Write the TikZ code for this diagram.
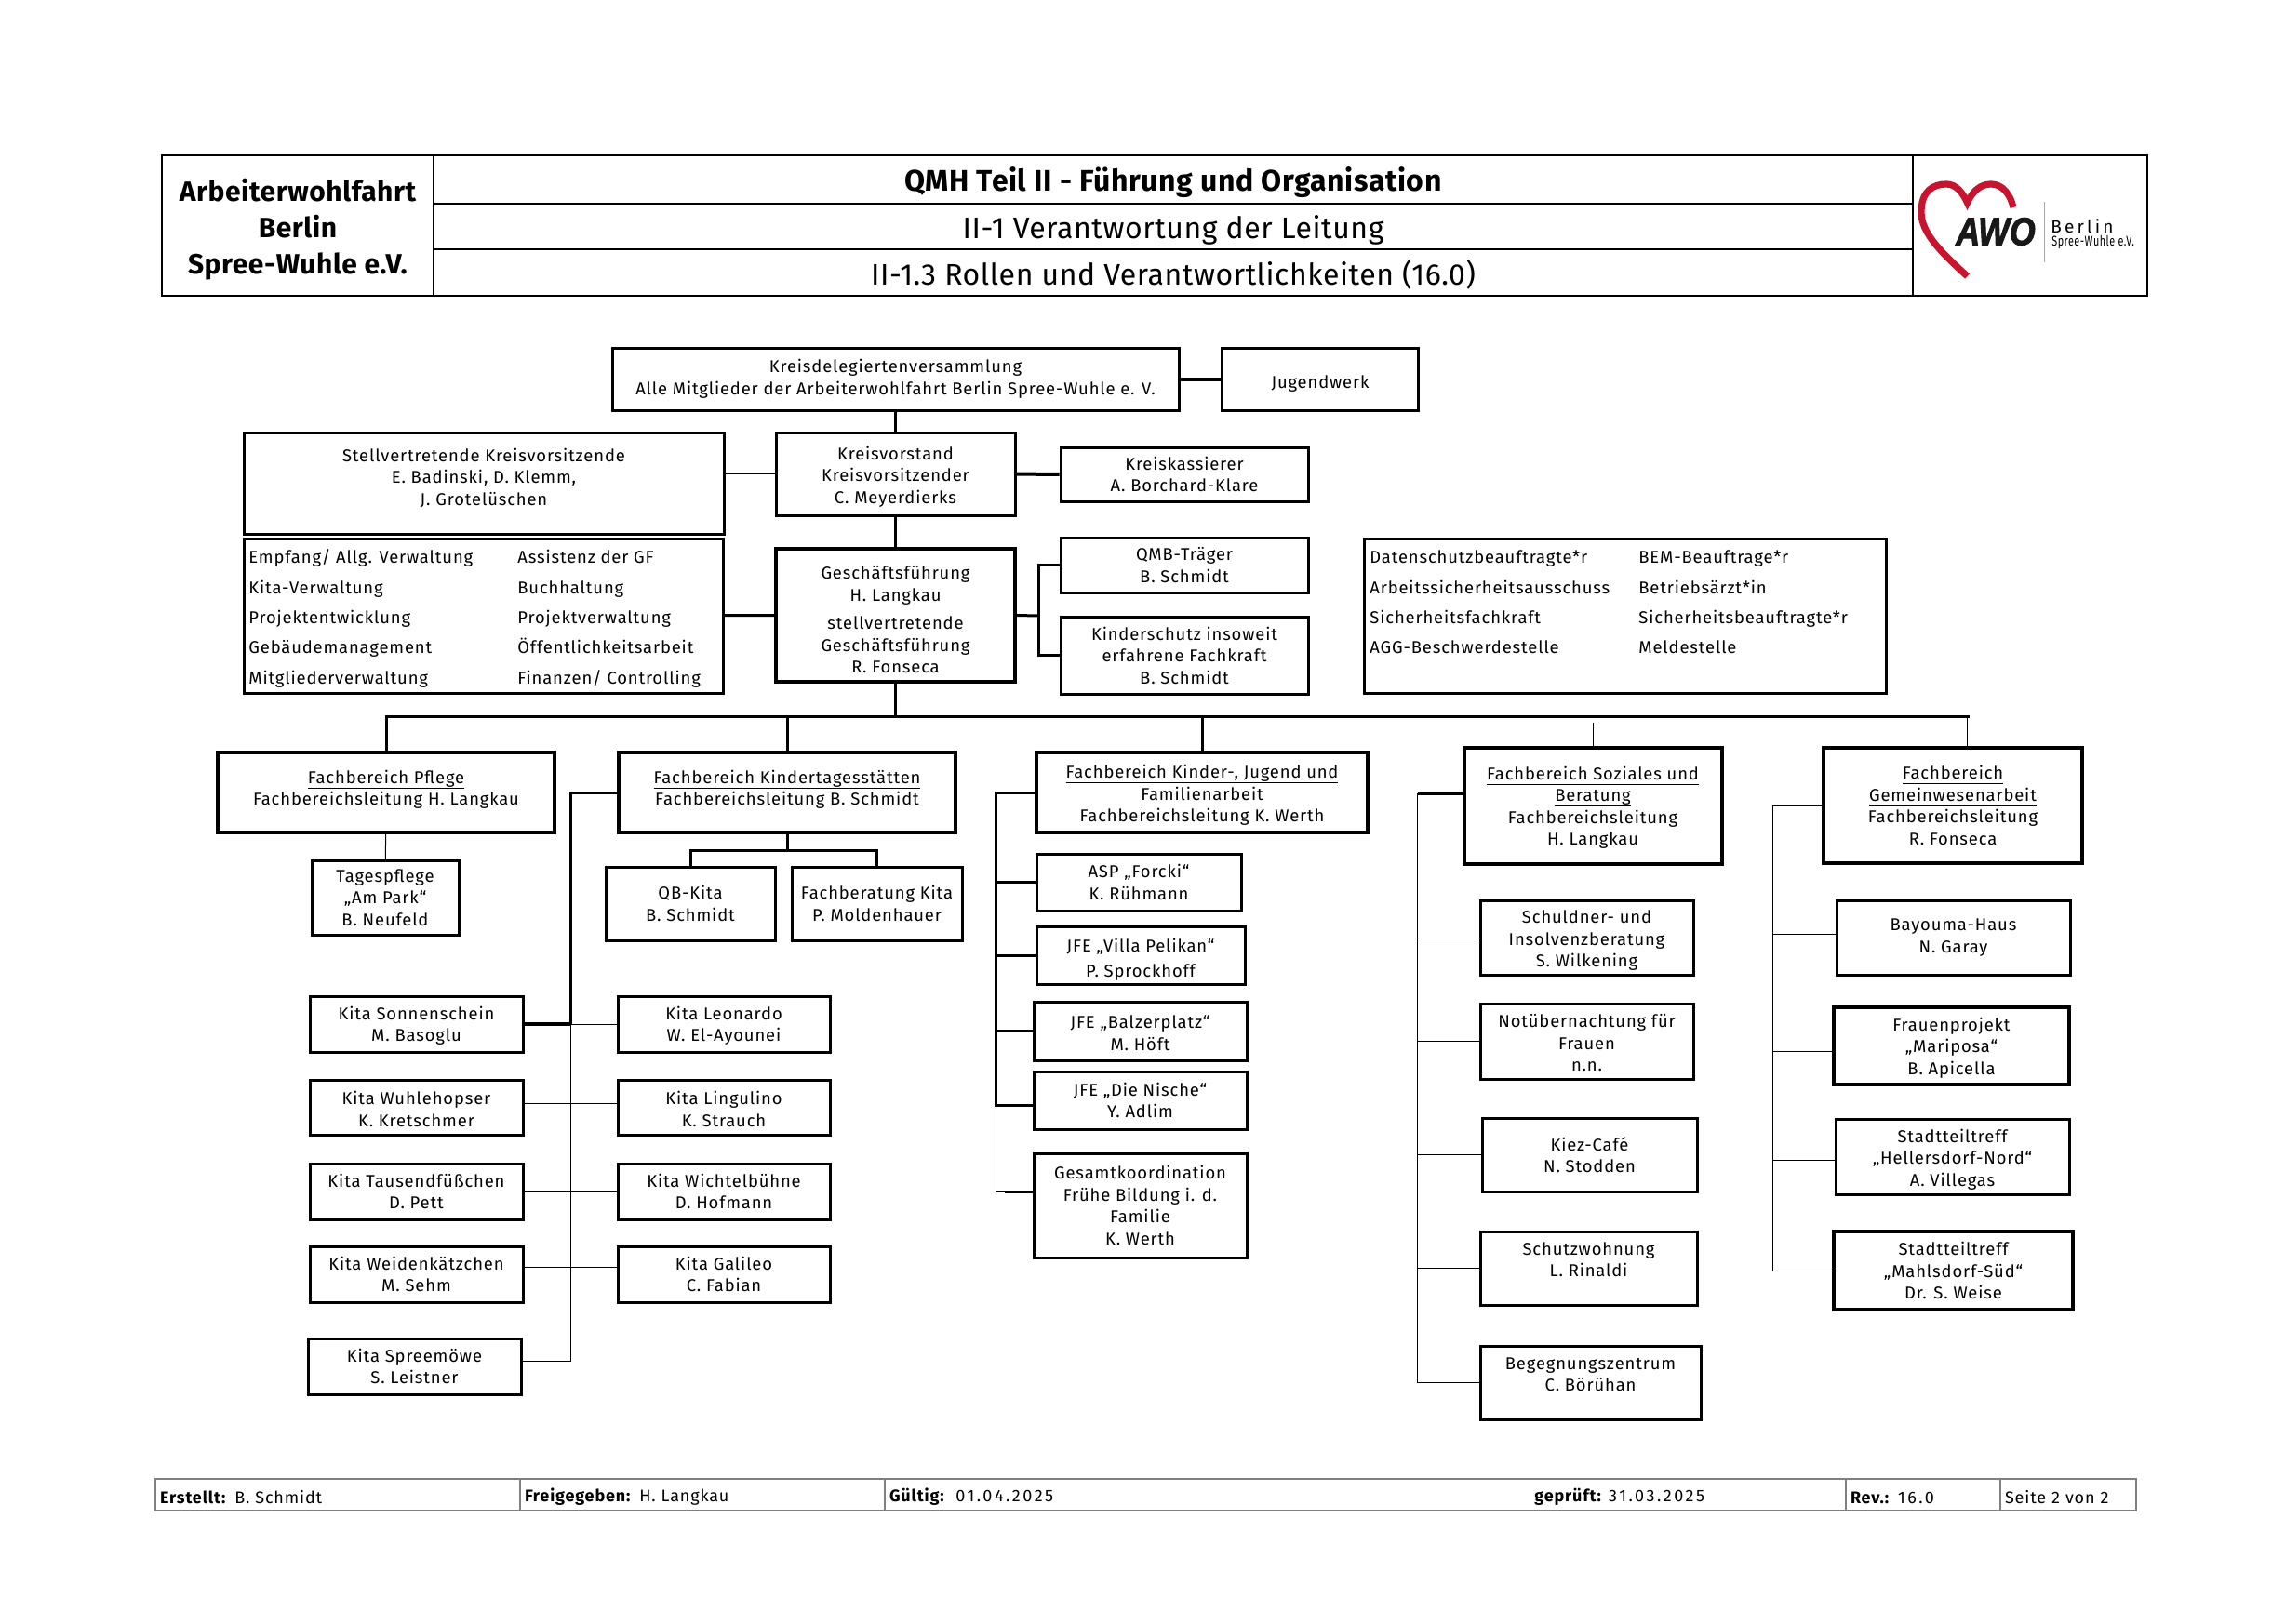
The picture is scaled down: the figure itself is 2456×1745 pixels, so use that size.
\documentclass[tikz,border=0pt]{standalone}
\usepackage{fontspec}
\setmainfont[LetterSpace=4.7]{Fira Sans}
\newfontfamily\headfont[LetterSpace=1.8]{Fira Sans}
\newfontfamily\awofont[BoldItalicFeatures={FakeBold=2.5}]{Liberation Sans}
\usetikzlibrary{positioning,calc}
\definecolor{awored}{HTML}{C8142F}
\newcommand{\topdrop}[1]{\rule{0pt}{#1}}
\newcommand{\fbul}[1]{\underline{\raisebox{0pt}[\height][1pt]{#1}}}
\newcommand{\wdate}[1]{{\addfontfeature{LetterSpace=14}#1}}
\tikzset{
  sz/.style 2 args={minimum width=#1*0.5pt,minimum height=#2*0.5pt},
  orgbox/.style={rectangle,draw,line width=1.5pt,inner sep=0pt,align=center,font=\fontsize{9.2}{11.75}\selectfont},
  fbbox/.style={orgbox,line width=2pt},
  textlift/.style={execute at end node={\rule[-#1]{0pt}{0pt}}},
  listitem/.style={anchor=base west,inner sep=0pt,font=\fontsize{9.2}{11.75}\selectfont},
  headcell/.style={rectangle,draw,line width=1.2pt,inner sep=0pt,align=center,font=\headfont\fontsize{16}{19}\selectfont},
  footcell/.style={rectangle,draw=gray,line width=0.8pt,inner xsep=2.5pt,inner ysep=0pt,minimum height=17pt,align=left,font=\fontsize{9}{10}\selectfont},
  link/.style={line width=1.5pt},
  heavylink/.style={line width=2pt},
  thinlink/.style={line width=0.5pt}
}

\begin{document}
\begin{tikzpicture}[x=0.5pt,y=-0.5pt]
  \useasboundingbox (0,0) rectangle (2456,1745);
  % header
  \node[headcell,sz={292}{151},font=\headfont\fontsize{15}{19.5}\selectfont\bfseries] (orgname) at (320,242.5)
      {\topdrop{16.5pt}Arbeiterwohlfahrt\\Berlin\\Spree-Wuhle e.V.};
  \node[headcell,sz={1590}{52},font=\headfont\fontsize{16}{19}\selectfont\bfseries] (title1) at (1261,193) {\topdrop{16.5pt}QMH Teil II - Führung und Organisation};
  \node[headcell,sz={1590}{49}] (title2) at (1261,243.5) {\topdrop{16.5pt}II-1 Verantwortung der Leitung};
  \node[headcell,sz={1590}{50}] (title3) at (1261,293) {\topdrop{15.5pt}II-1.3 Rollen und Verantwortlichkeiten (16.0)};
  \node[headcell,sz={252}{151}] (logobox) at (2182,242.5) {};
  % logo
  \draw[line width=3.6pt,color=awored] (2114.5,297) .. controls (2085,270) and (2065,250) .. (2065,228)
      .. controls (2065,205) and (2078,198) .. (2092,198) .. controls (2103,198) and (2110,208) .. (2114.5,218)
      .. controls (2120,206) and (2128,198) .. (2140,198) .. controls (2153,198) and (2161,210) .. (2164,223);
  \node[inner sep=0pt,font=\awofont\fontsize{21}{22}\selectfont\bfseries\itshape,text=black!90] (logoawo) at (2145,249) {\scalebox{0.85}[1]{AWO}};
  \node[anchor=west,inner sep=0pt,font=\fontsize{9.5}{10}\selectfont] (logocity) at (2204,243) {B\,e\,r\,l\,i\,n};
  \node[anchor=west,inner sep=0pt,font=\fontsize{7.5}{9}\selectfont] (logoname) at (2205,260) {\scalebox{0.72}[1]{Spree-Wuhle e.V.}};
  \coordinate (logotop) at (2197.5,217);
  \coordinate (logobot) at (2197.5,282);
  \draw[thinlink,color=gray!70] (logotop) -- (logobot);

  % upper part
  \node[orgbox,sz={609}{67}] (delegierte) at (962.5,407.5) {Kreisdelegiertenversammlung\\Alle Mitglieder der Arbeiterwohlfahrt Berlin Spree-Wuhle e. V.};
  \node[orgbox,sz={211}{67}] (jugendwerk) at (1419,407.5) {\topdrop{11.7pt}Jugendwerk};
  \node[orgbox,sz={516}{109}] (stellv) at (520,519.5) {\topdrop{11.9pt}Stellvertretende Kreisvorsitzende\\E. Badinski, D. Klemm,\\J. Grotelüschen\\\mbox{}};
  \node[orgbox,sz={257}{89}] (vorstand) at (962.5,509.5) {\topdrop{10.4pt}Kreisvorstand\\Kreisvorsitzender\\C. Meyerdierks};
  \node[orgbox,sz={266}{58}] (kasse) at (1273,510) {Kreiskassierer\\A. Borchard-Klare};
  \node[orgbox,sz={515}{166}] (verwaltung) at (520,662) {};
  \node[orgbox,line width=1.7pt,sz={257}{143}] (gf) at (962.5,661.5) {\topdrop{11.9pt}Geschäftsführung\\H. Langkau\\[3.5pt]stellvertretende\\Geschäftsführung\\R. Fonseca};
  \node[orgbox,sz={266}{59}] (qmb) at (1273,607.5) {QMB-Träger\\B. Schmidt};
  \node[orgbox,sz={266}{83}] (kinderschutz) at (1273,704.5) {Kinderschutz insoweit\\erfahrene Fachkraft\\B. Schmidt};
  \node[orgbox,sz={561}{166}] (beauftragte) at (1746.5,662) {};

  \node[listitem] (v1) at (267,605) {Empfang/ Allg. Verwaltung};
  \node[listitem] (v2) at (267,638) {Kita-Verwaltung};
  \node[listitem] (v3) at (267,670) {Projektentwicklung};
  \node[listitem] (v4) at (267,702) {Gebäudemanagement};
  \node[listitem] (v5) at (267,735) {Mitgliederverwaltung};
  \node[listitem] (w1) at (556,605) {Assistenz der GF};
  \node[listitem] (w2) at (556,638) {Buchhaltung};
  \node[listitem] (w3) at (556,670) {Projektverwaltung};
  \node[listitem] (w4) at (556,702) {Öffentlichkeitsarbeit};
  \node[listitem] (w5) at (556,735) {Finanzen/ Controlling};
  \node[listitem] (b1) at (1472,605) {Datenschutzbeauftragte*r};
  \node[listitem] (b2) at (1472,638) {Arbeitssicherheitsausschuss};
  \node[listitem] (b3) at (1472,670) {Sicherheitsfachkraft};
  \node[listitem] (b4) at (1472,702) {AGG-Beschwerdestelle};
  \node[listitem] (c1) at (1761,605) {BEM-Beauftrage*r};
  \node[listitem] (c2) at (1761,638) {Betriebsärzt*in};
  \node[listitem] (c3) at (1761,670) {Sicherheitsbeauftragte*r};
  \node[listitem] (c4) at (1761,702) {Meldestelle};

  \draw[link] (delegierte) -- (vorstand);
  \draw[link] (vorstand) -- (gf);
  \draw[heavylink] (delegierte) -- (jugendwerk);
  \draw[thinlink] (vorstand.west) -- (vorstand.west -| stellv.east);
  \draw[heavylink] (vorstand) -- (kasse);
  \draw[link] (verwaltung) -- (gf);
  \coordinate (gffork) at (1116,662);
  \draw[link] (gf.east) -- (gffork);
  \draw[link] (qmb.west) -| (gffork);
  \draw[link] (kinderschutz.west) -| (gffork);

  % Fachbereiche
  \coordinate (busw) at (414,770);
  \coordinate (buse) at (2117,770);
  \draw[link] (busw) -- (buse);
  \draw[link] (gf.south) -- (gf.south |- busw);
  \node[fbbox,sz={362}{86},textlift=5.2pt] (pflege) at (415,852) {\fbul{Fachbereich Pflege}\\Fachbereichsleitung H. Langkau};
  \node[fbbox,sz={362}{86},textlift=5.2pt] (kita) at (846,852) {\fbul{Fachbereich Kindertagesstätten}\\Fachbereichsleitung B. Schmidt};
  \node[fbbox,sz={356}{86}] (kinder) at (1292,852) {\topdrop{10.4pt}\fbul{Fachbereich Kinder-, Jugend und}\\\fbul{Familienarbeit}\\Fachbereichsleitung K. Werth};
  \node[fbbox,sz={277}{125}] (soziales) at (1712,866.5) {\topdrop{9pt}\fbul{Fachbereich Soziales und}\\\fbul{Beratung}\\Fachbereichsleitung\\H. Langkau};
  \node[fbbox,sz={278}{124}] (gemein) at (2099,866) {\fbul{Fachbereich}\\\fbul{Gemeinwesenarbeit}\\Fachbereichsleitung\\R. Fonseca};
  \draw[link] (pflege.north) -- (pflege.north |- busw);
  \draw[link] (kita.north) -- (kita.north |- busw);
  \draw[link] (kinder.north) -- (kinder.north |- busw);
  \coordinate (sozdrop) at (1712,777);
  \draw[thinlink] (soziales.north) -- (sozdrop);
  \coordinate (gemdrop) at (2114,770);
  \draw[thinlink] (gemdrop) -- (gemdrop |- gemein.north);

  % Pflege und Kita
  \node[orgbox,sz={158}{80}] (tagespflege) at (414,965) {Tagespflege\\„Am Park“\\B. Neufeld};
  \draw[thinlink] (pflege) -- (tagespflege);
  \node[orgbox,sz={182}{79}] (qbkita) at (742,971.5) {QB-Kita\\B. Schmidt};
  \node[orgbox,sz={183}{79}] (fachberatung) at (942.5,971.5) {Fachberatung Kita\\P. Moldenhauer};
  \coordinate (kitafork) at (846,914);
  \draw[link] (kita.south) -- (kitafork);
  \draw[link] (qbkita.north) |- (kitafork);
  \draw[link] (fachberatung.north) |- (kitafork);

  \node[orgbox,sz={229}{60}] (sonne) at (447.5,1101) {\topdrop{9pt}Kita Sonnenschein\\M. Basoglu};
  \node[orgbox,sz={229}{59}] (wuhle) at (447.5,1190.5) {\topdrop{9pt}Kita Wuhlehopser\\K. Kretschmer};
  \node[orgbox,sz={229}{60}] (tausend) at (447.5,1281) {Kita Tausendfüßchen\\D. Pett};
  \node[orgbox,sz={229}{60}] (weide) at (447.5,1370) {Kita Weidenkätzchen\\M. Sehm};
  \node[orgbox,sz={229}{60}] (spree) at (445.5,1469) {Kita Spreemöwe\\S. Leistner};
  \node[orgbox,sz={228}{60}] (leonardo) at (778,1101) {\topdrop{9pt}Kita Leonardo\\W. El-Ayounei};
  \node[orgbox,sz={228}{59}] (lingulino) at (778,1190.5) {\topdrop{9pt}Kita Lingulino\\K. Strauch};
  \node[orgbox,sz={228}{60}] (wichtel) at (778,1281) {Kita Wichtelbühne\\D. Hofmann};
  \node[orgbox,sz={228}{60}] (galileo) at (778,1370) {Kita Galileo\\C. Fabian};
  \coordinate (kitatop) at (613,852);
  \coordinate (kitamid) at (613,1101);
  \draw[link] (kita.west) -- (kitatop) -- (kitamid);
  \draw[heavylink] (kitamid) -- (sonne.east);
  \draw[thinlink] (kitamid) -- (leonardo.west);
  \draw[thinlink] ([yshift=2pt]wuhle.east) -- ([yshift=2pt]lingulino.west);
  \draw[thinlink] (tausend) -- (wichtel);
  \draw[thinlink] ([yshift=4pt]weide.east) -- ([yshift=4pt]galileo.west);
  \draw[thinlink] (kitamid) |- ([yshift=3pt]spree.east);

  % Kinder, Jugend und Familie
  \node[orgbox,sz={220}{61}] (asp) at (1224,948.5) {ASP „Forcki“\\K. Rühmann};
  \node[orgbox,sz={224}{62}] (villa) at (1226,1027) {\topdrop{11.9pt}JFE „Villa Pelikan“\\[1.5pt]P. Sprockhoff};
  \node[orgbox,sz={229}{63}] (balzer) at (1225.5,1108.5) {\topdrop{9pt}JFE „Balzerplatz“\\M. Höft};
  \node[orgbox,sz={229}{62}] (nische) at (1225.5,1183) {JFE „Die Nische“\\Y. Adlim};
  \node[orgbox,sz={229}{112}] (gesamt) at (1225.5,1296) {Gesamtkoordination\\Frühe Bildung i. d.\\Familie\\K. Werth};
  \coordinate (kindtop) at (1070,852);
  \coordinate (kindmid) at (1070,1188);
  \draw[link] (kinder.west) -- (kindtop) -- (kindmid) -- ([yshift=-2.5pt]nische.west);
  \draw[thinlink] (kindmid) |- ([yshift=7.5pt]gesamt.west);
  \draw[link] ([yshift=7.5pt]gesamt.west) -- ++(-30,0);
  \draw[link] (asp.west) -- (asp.west -| kindtop);
  \draw[link] (villa.west) -- (villa.west -| kindtop);
  \draw[link] (balzer.west) -- (balzer.west -| kindtop);

  % Soziales
  \node[orgbox,sz={229}{80}] (schuldner) at (1705.5,1008) {\topdrop{10.4pt}Schuldner- und\\Insolvenzberatung\\S. Wilkening};
  \node[orgbox,sz={229}{81}] (notueber) at (1705.5,1119.5) {\topdrop{9pt}Notübernachtung für\\Frauen\\n.n.};
  \node[orgbox,sz={231}{79}] (kiez) at (1708.5,1241.5) {Kiez-Café\\N. Stodden};
  \node[orgbox,sz={233}{79}] (schutz) at (1707.5,1363.5) {\topdrop{9pt}Schutzwohnung\\L. Rinaldi\\\mbox{}};
  \node[orgbox,sz={237}{79}] (begegnung) at (1709.5,1486.5) {\topdrop{9.4pt}Begegnungszentrum\\C. Börühan\\\mbox{}};
  \coordinate (soztop) at (1523.5,853);
  \draw[link] ([yshift=6.75pt]soziales.west) -- (soztop);
  \draw[thinlink] (soztop) |- (begegnung.west);
  \draw[thinlink] (schuldner.west) -- (schuldner.west -| soztop);
  \draw[thinlink] (notueber.west) -- (notueber.west -| soztop);
  \draw[thinlink] (kiez.west) -- (kiez.west -| soztop);
  \draw[thinlink] (schutz.west) -- (schutz.west -| soztop);

  % Gemeinwesen
  \node[orgbox,sz={251}{80}] (bayouma) at (2099.5,1008) {Bayouma-Haus\\N. Garay};
  \node[orgbox,line width=1.9pt,sz={253}{83}] (mariposa) at (2097.5,1124.5) {\topdrop{9pt}Frauenprojekt\\„Mariposa“\\B. Apicella};
  \node[orgbox,sz={251}{81}] (heller) at (2098.5,1243.5) {\topdrop{10.4pt}Stadtteiltreff\\„Hellersdorf-Nord“\\A. Villegas};
  \node[orgbox,line width=1.9pt,sz={257}{84}] (mahls) at (2099.5,1366) {Stadtteiltreff\\„Mahlsdorf-Süd“\\Dr. S. Weise};
  \coordinate (gemtop) at (1905,866);
  \draw[thinlink] (gemein.west) -- (gemtop);
  \draw[thinlink] (gemtop) |- (mahls.west);
  \draw[thinlink] ([yshift=2pt]bayouma.west) -- ([yshift=2pt]bayouma.west -| gemtop);
  \draw[thinlink] ([yshift=-2.75pt]mariposa.west) -- ([yshift=-2.75pt]mariposa.west -| gemtop);
  \draw[thinlink] ([yshift=-1.75pt]heller.west) -- ([yshift=-1.75pt]heller.west -| gemtop);

  % footer
  \node[footcell,text width=392*0.5pt-5pt] (erstellt) at (363,1607) {\topdrop{9.7pt}\textbf{Erstellt:} B. Schmidt};
  \node[footcell,text width=392*0.5pt-5pt] (frei) at (755,1607) {\topdrop{9.7pt}\textbf{Freigegeben:} H. Langkau};
  \node[footcell,text width=1033*0.5pt-5pt] (gueltig) at (1467.5,1607) {\topdrop{9.7pt}\textbf{Gültig:}\ \ \wdate{01.04.2025}};
  \node[anchor=west,inner sep=0pt,font=\fontsize{9}{10}\selectfont] (geprueft) at (1649,1607) {\topdrop{9.7pt}\textbf{geprüft:} \wdate{31.03.2025}};
  \node[footcell,text width=166*0.5pt-5pt] (rev) at (2067,1607) {\topdrop{9.7pt}\textbf{Rev.:} \wdate{16.0}};
  \node[footcell,text width=146*0.5pt-5pt] (seite) at (2223,1607) {\topdrop{9.7pt}Seite 2 von 2};
\end{tikzpicture}
\end{document}
